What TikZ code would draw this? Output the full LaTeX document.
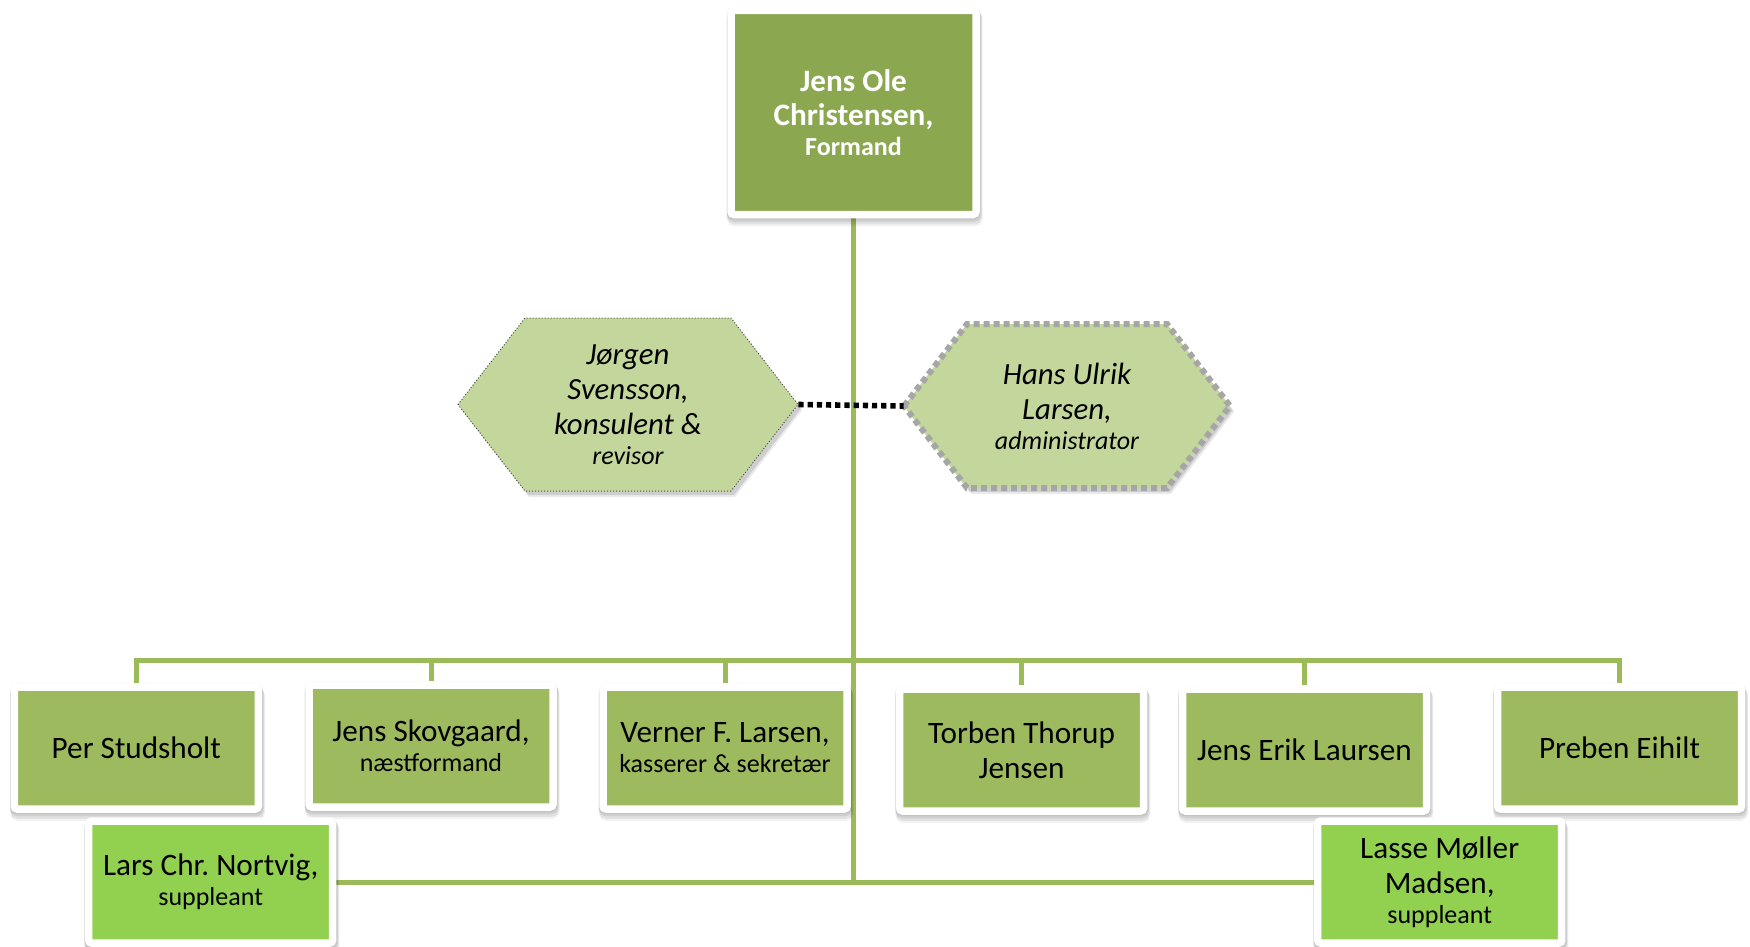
\documentclass[tikz,border=0pt]{standalone}
\usepackage{fontspec}
\setmainfont{Carlito}
\frenchspacing
\usetikzlibrary{shadows,calc}
\pgfdeclarelayer{background}
\pgfsetlayers{background,main}
\definecolor{topgreen}{RGB}{139,168,80}
\definecolor{memgreen}{RGB}{157,187,94}
\definecolor{suppgreen}{RGB}{146,208,80}
\definecolor{hexgreen}{RGB}{195,214,155}
\definecolor{conngreen}{RGB}{155,187,89}
\definecolor{dashgray}{RGB}{166,166,166}
\newcommand{\smallpart}[1]{{\fontsize{13}{15}\selectfont #1}}
\tikzset{
  softshadow/.style={
    general shadow={shadow xshift=0.6pt, shadow yshift=-3.2pt, draw=black, line width=5.5pt, draw opacity=0.05},
    general shadow={shadow xshift=0.5pt, shadow yshift=-2.4pt, draw=black, line width=5pt, draw opacity=0.07},
    general shadow={shadow xshift=0.3pt, shadow yshift=-1.4pt, draw=black, line width=4.6pt, draw opacity=0.08},
    general shadow={shadow yshift=-0.4pt, draw=black, line width=4.4pt, draw opacity=0.06}},
  framed/.style={softshadow, draw=white, line width=3.75pt, rounded corners=1.5pt, inner sep=0pt, align=center},
  topbox/.style={framed, fill=topgreen, minimum width=122.5pt, minimum height=102pt,
    text=white, font=\fontsize{15.6}{17}\selectfont\bfseries},
  membox/.style={framed, fill=memgreen, minimum width=122pt, minimum height=61pt,
    text=black, font=\fontsize{15.6}{17.5}\selectfont},
  suppbox/.style={membox, fill=suppgreen},
  conn/.style={draw=conngreen, line width=2.5pt},
  hextext/.style={inner sep=0pt, align=center, font=\fontsize{15.4}{17.5}\selectfont\itshape},
  hexshade/.style={
    general shadow={shadow xshift=2pt, shadow yshift=-3pt, fill=black, fill opacity=0.08},
    general shadow={shadow xshift=1.5pt, shadow yshift=-2pt, fill=black, fill opacity=0.12}},
  dotconn/.style={draw=black, line width=2.8pt, dash pattern=on 2.6pt off 2pt}
}
\begin{document}
\begin{tikzpicture}[x=0.5pt,y=-0.5pt]
\useasboundingbox (0,0) rectangle (1750,947);

% hexagon shapes
\path[hexshade, fill=hexgreen, draw=black!70, line width=0.5pt, densely dotted]
  (458,404.5) -- (525,318) -- (731,318) -- (798,404.5) -- (731,491) -- (525,491) -- cycle;
\path[hexshade, fill=hexgreen, draw=dashgray, line width=3pt, dash pattern=on 3pt off 2pt]
  (904,406) -- (967,324) -- (1167,324) -- (1230,406) -- (1167,488) -- (967,488) -- cycle;

% nodes
\node[topbox] (top) at (853.5,112.5) {Jens Ole\\Christensen,\\[-2pt]\smallpart{Formand}};

\node[hextext, minimum width=170pt, minimum height=86.5pt] (jorgen) at (628,404.5)
  {Jørgen\\Svensson,\\konsulent \&\\[-2.5pt]\smallpart{revisor}};
\node[hextext, minimum width=163pt, minimum height=82pt] (hans) at (1067,406)
  {Hans Ulrik\\Larsen,\\[-2.5pt]\smallpart{administrator}};

\node[membox] (per) at (136.3,748) {Per Studsholt};
\node[membox] (skov) at (431,746) {Jens Skovgaard,\\[-2.5pt]\smallpart{næstformand}};
\node[membox] (verner) at (725,748) {Verner F. Larsen,\\[-2.5pt]\smallpart{kasserer \& sekretær}};
\node[membox] (torben) at (1021.6,750) {Torben Thorup\\Jensen};
\node[membox] (erik) at (1304.5,750) {Jens Erik Laursen};
\node[membox] (preben) at (1619.5,748) {Preben Eihilt};

\node[suppbox] (lars) at (210.7,882) {Lars Chr. Nortvig,\\[-2.5pt]\smallpart{suppleant}};
\node[suppbox] (lasse) at (1439.7,882) {Lasse Møller\\Madsen,\\[-2.5pt]\smallpart{suppleant}};

% connectors
\coordinate (bus) at (853.5,660);
\coordinate (low) at (853.5,882);
\begin{pgfonlayer}{background}
  \draw[conn] (top.south) -- (low);
  \draw[conn] (lars.east) -- (lasse.west);
  \foreach \n in {per,skov,verner,torben,erik,preben}
    \draw[conn] (bus) -| (\n.north);
\end{pgfonlayer}

\draw[dotconn] (jorgen.east) -- (hans.west);
\end{tikzpicture}
\end{document}
